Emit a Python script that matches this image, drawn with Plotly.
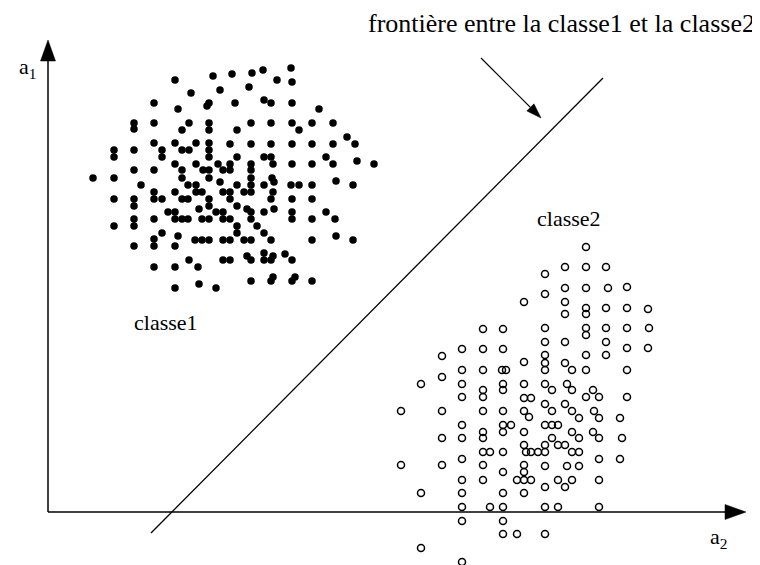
import math
import plotly.graph_objects as go

# Class 1 (filled dots) – positions (chart units, y grows downward)
class1_x = [175,213,232,191,220,154,178,207,209,134,134,154,189,182,209,209,114,114,134,154,162,162,175,182,189,196,209,209,209,175,182,196,203,209,218,223,134,154,
            252,263,291,249,277,292,235,264,271,292,319,237,251,271,292,299,312,333,347,355,230,251,271,292,312,333,237,251,251,264,271,273,292,312,326,333,357,374,230,230,
            93,114,141,182,188,196,202,196,209,220,154,154,162,175,182,188,209,209,223,230,230,114,134,134,199,168,175,175,182,188,202,209,216,223,223,230,134,134,154,114,162,154,154,178,195,202,209,223,230,134,175,189,198,223,230,154,175,175,199,216,
            237,251,251,251,244,272,274,264,291,299,312,336,353,273,271,292,312,237,247,251,251,264,274,292,292,312,326,335,237,237,257,264,244,251,271,312,336,353,247,251,264,264,271,273,285,292,251,271,273,292,295,312]
class1_y = [80,76,74,93,90,103,109,106,103,123,129,123,123,130,123,130,150,157,150,143,150,157,143,150,150,143,143,150,157,164,170,164,170,170,164,170,170,170,
            73,70,68,87,80,82,103,100,103,103,109,130,123,123,123,130,123,123,137,144,144,144,144,144,144,144,157,164,170,157,157,164,164,164,157,164,161,164,164,170,
            178,178,185,178,185,185,192,192,178,182,192,199,199,192,199,199,199,206,192,192,199,199,199,206,209,212,212,219,219,219,219,219,212,212,219,219,219,226,219,226,233,239,246,236,240,240,240,240,240,246,246,260,267,260,260,267,267,288,284,288,
            185,178,185,192,192,178,182,185,185,185,185,181,185,192,199,199,199,206,209,212,219,212,209,212,219,219,212,219,226,233,226,233,240,240,240,240,236,240,256,260,253,260,260,256,254,260,281,281,277,281,277,281]

# Class 2 (open circles)
class2_x = [524,483,503,462,483,503,442,
            586,565,586,606,545,565,586,608,627,545,565,565,586,586,606,627,648,545,545,565,586,586,606,627,649,606,606,627,648,545,586,
            524,462,483,502,506,442,421,462,483,483,503,503,524,462,524,401,442,483,503,524,529,462,503,503,511,483,483,524,442,462,524,526,483,490,503,462,401,442,483,503,524,524,
            545,545,565,572,586,627,545,552,567,572,586,593,599,627,531,545,552,565,572,579,594,599,620,545,552,558,552,572,579,593,599,622,545,558,565,531,538,545,572,579,599,620,545,567,579,
            462,483,517,524,531,421,462,503,524,462,490,503,462,503,503,517,421,462,
            545,558,565,572,599,545,558,599,545]
class2_y = [302,329,329,349,349,349,356,
            247,267,267,267,274,288,288,288,287,294,302,314,308,314,308,308,309,328,342,342,328,335,328,328,328,342,355,348,348,355,355,
            362,370,370,370,370,377,384,384,390,397,384,390,384,397,398,411,411,411,411,411,417,425,425,432,425,432,438,432,438,438,445,452,452,452,452,459,465,465,465,472,465,472,
            363,370,363,370,370,370,384,390,384,390,397,390,397,397,398,404,411,404,411,418,411,418,418,425,425,425,438,432,438,432,438,438,445,445,445,452,452,452,452,452,459,459,466,466,466,
            480,480,480,480,480,493,493,493,493,507,507,507,521,521,534,534,548,562,
            487,480,487,480,480,507,507,507,534]

# Decision boundary end points
boundary_x = [151, 603]
boundary_y = [533, 78]

# Axis origin / ends and pointer arrow
origin = (48, 512)
y_axis_tip = (48, 40)
x_axis_tip = (746, 512)
pointer_tail = (481, 58)
pointer_tip = (541, 118)

fig = go.Figure()

fig.add_trace(go.Scatter(x=boundary_x, y=boundary_y, mode="lines",
                         line=dict(color="black", width=1.3), hoverinfo="skip"))
fig.add_trace(go.Scatter(x=class1_x, y=class1_y, mode="markers", name="classe1",
                         marker=dict(symbol="circle", size=7.5, color="black", line=dict(width=0))))
fig.add_trace(go.Scatter(x=class2_x, y=class2_y, mode="markers", name="classe2",
                         marker=dict(symbol="circle-open", size=7, color="black", line=dict(width=1.5))))


def arrow(tail, tip, width, head_len, head_half):
    dx, dy = tip[0] - tail[0], tip[1] - tail[1]
    n = math.hypot(dx, dy)
    ux, uy = dx / n, dy / n
    bx, by = tip[0] - ux * head_len, tip[1] - uy * head_len
    px, py = -uy * head_half, ux * head_half
    fig.add_shape(type="line", xref="x", yref="y", x0=tail[0], y0=tail[1], x1=bx, y1=by,
                  line=dict(color="black", width=width))
    path = "M {} {} L {} {} L {} {} Z".format(tip[0], tip[1], bx + px, by + py, bx - px, by - py)
    fig.add_shape(type="path", xref="x", yref="y", path=path,
                  fillcolor="black", line=dict(color="black", width=0.5))


arrow(origin, y_axis_tip, 1.5, 21, 7.5)
arrow(origin, x_axis_tip, 1.5, 21, 7.5)
arrow(pointer_tail, pointer_tip, 1.2, 15, 5)

serif = "Liberation Serif, Times New Roman, serif"


def label(x, y, text, size=20, xanchor="center"):
    fig.add_annotation(x=x, y=y, xref="x", yref="y", text=text, showarrow=False,
                       xanchor=xanchor, font=dict(family=serif, size=size, color="black"))


label(757, 23, "frontière entre la classe1 et la classe2", size=26, xanchor="right")
label(166, 322, "classe1", size=22)
label(569, 218, "classe2", size=22)
label(27, 68, "a<sub>1</sub>", size=22)
label(718, 538, "a<sub>2</sub>", size=22)

# the page body adds an 8px margin, so the figure is drawn 8px in from the corner
fig.update_xaxes(range=[8, 760], visible=False, fixedrange=True)
fig.update_yaxes(range=[565, 8], visible=False, fixedrange=True)
fig.update_layout(width=752, height=557, margin=dict(l=0, r=0, t=0, b=0),
                  paper_bgcolor="white", plot_bgcolor="white", showlegend=False)

fig.write_html("out.html")
